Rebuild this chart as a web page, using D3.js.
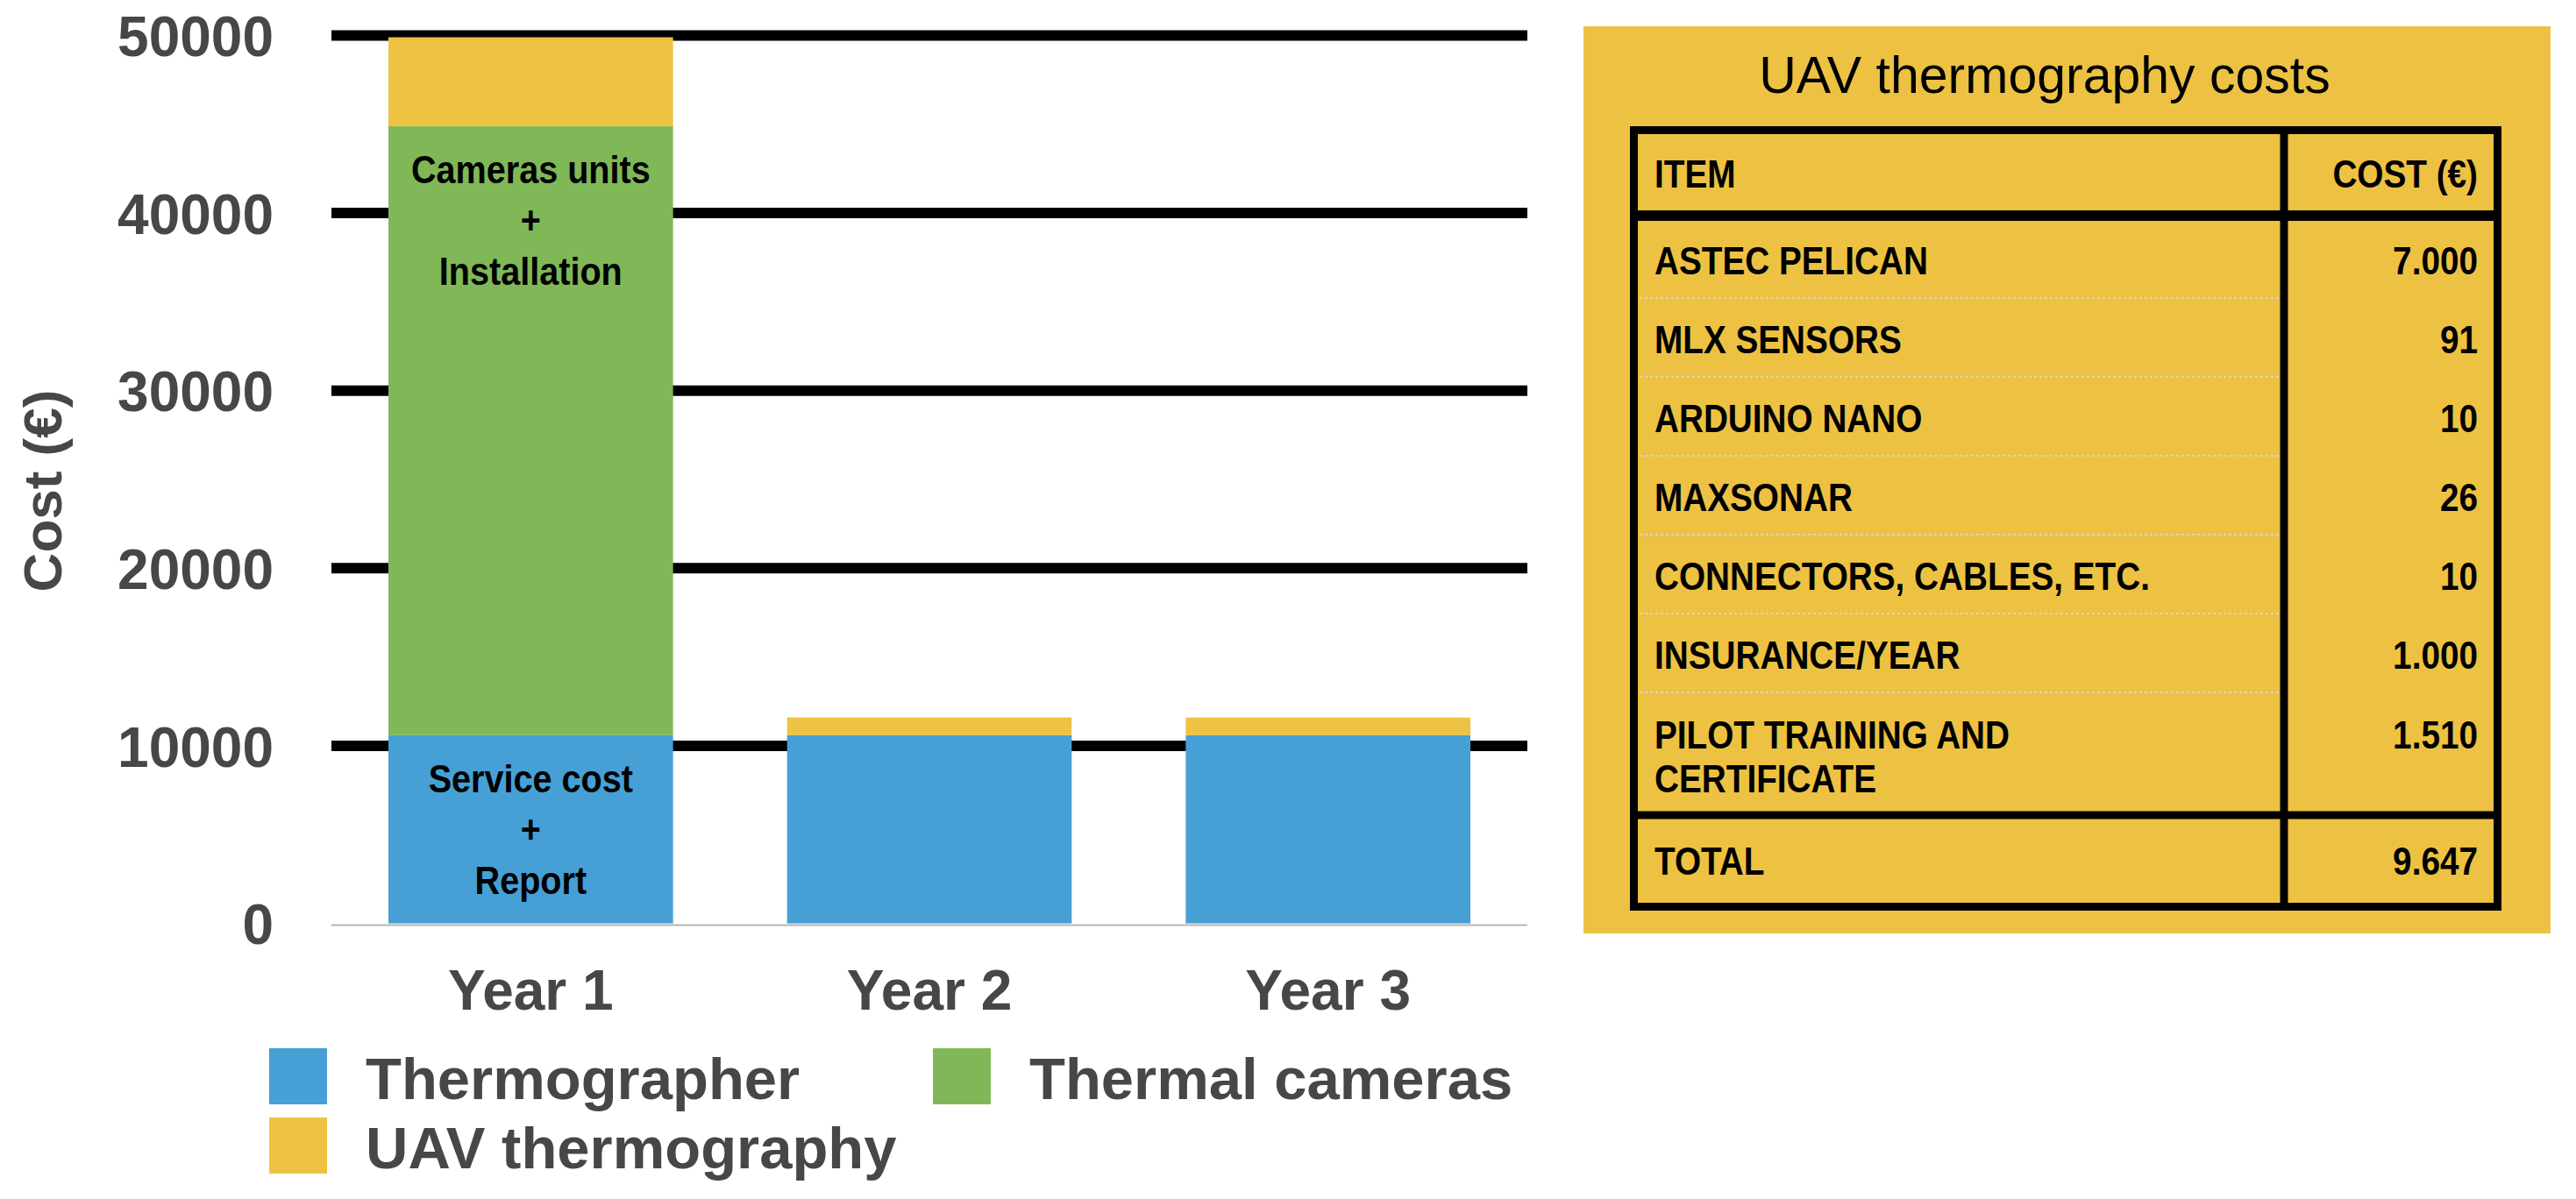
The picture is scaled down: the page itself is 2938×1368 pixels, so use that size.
<!DOCTYPE html>
<html>
<head>
<meta charset="utf-8">
<script src="https://cdn.jsdelivr.net/npm/d3@7"></script>
<style>
  body { margin: 0; background: #fff; }
  svg { display: block; font-family: "Liberation Sans", Arial, Helvetica, sans-serif; }
</style>
</head>
<body>
<svg id="chart" width="2938" height="1368"></svg>
<script>
// chart data
var years = ["Year 1", "Year 2", "Year 3"];
var thermographer = [10600, 10600, 10600];
var thermalCameras = [34300, 0, 0];
var uavThermography = [5000, 1000, 1000];
var yTicks = [0, 10000, 20000, 30000, 40000, 50000];

var seriesNames = ["Thermographer", "Thermal cameras", "UAV thermography"];
var seriesColors = ["#46a0d5", "#80b857", "#eec343"];

// notes written inside the first bar
var greenNote = ["Cameras units", "+", "Installation"];
var blueNote = ["Service cost", "+", "Report"];

// table data
var tableTitle = "UAV thermography costs";
var tableHeader = ["ITEM", "COST (€)"];
var tableItems = ["ASTEC PELICAN", "MLX SENSORS", "ARDUINO NANO", "MAXSONAR",
                  "CONNECTORS, CABLES, ETC.", "INSURANCE/YEAR", "PILOT TRAINING AND\nCERTIFICATE"];
var tableCosts = ["7.000", "91", "10", "26", "10", "1.000", "1.510"];
var tableTotal = ["TOTAL", "9.647"];

var svg = d3.select("#chart");
var axisGray = "#474747";

// scales
var x = d3.scaleBand()
    .domain(years)
    .range([378, 1742])
    .paddingInner(0.286)
    .paddingOuter(0.143);

var y = d3.scaleLinear()
    .domain([0, 50000])
    .range([1053.6, 40.5]);

// gridlines (thick black, not at zero)
svg.append("g").selectAll("line")
    .data(yTicks.filter(function(d) { return d > 0; }))
    .enter().append("line")
    .attr("x1", 378).attr("x2", 1742)
    .attr("y1", function(d) { return y(d); })
    .attr("y2", function(d) { return y(d); })
    .attr("stroke", "#000")
    .attr("stroke-width", 12);

// baseline
svg.append("line")
    .attr("x1", 378).attr("x2", 1742)
    .attr("y1", y(0) + 2).attr("y2", y(0) + 2)
    .attr("stroke", "#b5b5b5")
    .attr("stroke-width", 2);

// stacked bars
var rows = years.map(function(yr, i) {
    return { year: yr, t: thermographer[i], c: thermalCameras[i], u: uavThermography[i] };
});
var stacked = d3.stack().keys(["t", "c", "u"])(rows);

var layers = svg.append("g").selectAll("g")
    .data(stacked)
    .enter().append("g")
    .attr("fill", function(d, i) { return seriesColors[i]; });

layers.selectAll("rect")
    .data(function(d) { return d; })
    .enter().append("rect")
    .attr("x", function(d) { return x(d.data.year); })
    .attr("y", function(d) { return y(d[1]); })
    .attr("width", x.bandwidth())
    .attr("height", function(d) { return y(d[0]) - y(d[1]); });

// narrow bold text, closer to the condensed look of the original
function narrowText(parent, xPos, yPos, anchor, size, str, sx) {
    return parent.append("text")
        .attr("transform", "translate(" + xPos + "," + yPos + ") scale(" + sx + ",1)")
        .attr("text-anchor", anchor)
        .attr("font-size", size + "px")
        .attr("font-weight", "bold")
        .attr("fill", "#000")
        .text(str);
}

// notes inside Year 1 bar
function addNote(lines, segTop) {
    var cx = x(years[0]) + x.bandwidth() / 2;
    lines.forEach(function(l, i) {
        narrowText(svg, cx, segTop + 50 + i * 58 + 15, "middle", 44, l, 0.9);
    });
}
addNote(greenNote, y(stacked[1][0][1]));
addNote(blueNote, y(stacked[0][0][1]));

// y axis labels
var yAxis = svg.append("g")
    .attr("transform", "translate(378,0)")
    .call(d3.axisLeft(y).tickValues(yTicks).tickFormat(d3.format("d")).tickSize(0).tickPadding(66));
yAxis.select(".domain").remove();
yAxis.selectAll("text")
    .attr("font-size", "64px")
    .attr("font-weight", "bold")
    .attr("font-family", "Liberation Sans, Arial, sans-serif")
    .attr("fill", axisGray)
    .attr("dy", "0.36em");

// x axis labels
var xAxis = svg.append("g")
    .attr("transform", "translate(0," + y(0) + ")")
    .call(d3.axisBottom(x).tickSize(0).tickPadding(53));
xAxis.select(".domain").remove();
xAxis.selectAll("text")
    .attr("font-size", "64px")
    .attr("font-weight", "bold")
    .attr("font-family", "Liberation Sans, Arial, sans-serif")
    .attr("fill", axisGray);

// y axis title
svg.append("text")
    .attr("transform", "translate(70,560) rotate(-90)")
    .attr("text-anchor", "middle")
    .attr("font-size", "62px")
    .attr("font-weight", "bold")
    .attr("fill", axisGray)
    .text("Cost (€)");

// legend
var legendPos = [[307, 1196], [1064, 1196], [307, 1275]];
var legend = svg.append("g").selectAll("g")
    .data(seriesNames)
    .enter().append("g")
    .attr("transform", function(d, i) { return "translate(" + legendPos[i][0] + "," + legendPos[i][1] + ")"; });
legend.append("rect")
    .attr("width", 66).attr("height", 64)
    .attr("fill", function(d, i) { return seriesColors[i]; });
legend.append("text")
    .attr("x", 110).attr("y", 58)
    .attr("font-size", "67px")
    .attr("font-weight", "bold")
    .attr("fill", axisGray)
    .text(function(d) { return d; });

// cost table panel
var panel = svg.append("g");
panel.append("rect")
    .attr("x", 1806).attr("y", 30)
    .attr("width", 1103).attr("height", 1035)
    .attr("fill", "#edc242");

panel.append("text")
    .attr("x", 2332).attr("y", 106)
    .attr("text-anchor", "middle")
    .attr("font-size", "59px")
    .attr("fill", "#000")
    .text(tableTitle);

var tLeft = 1863.5, tRight = 2848.5, tTop = 148.5, tBottom = 1034.5, colX = 2605;
var textLeft = 1887, textRight = 2826;
var rowTop = 252, rowH = 90, pilotH = 142;

// row boxes for data rows
var rowBoxes = tableItems.map(function(item, i) {
    var top = rowTop + i * rowH;
    var h = item.indexOf("\n") >= 0 ? pilotH : rowH;
    return { item: item, cost: tableCosts[i], top: top, h: h };
});

// dotted separators in the item column
panel.append("g").selectAll("line")
    .data(rowBoxes.slice(1))
    .enter().append("line")
    .attr("x1", 1870).attr("x2", colX - 6)
    .attr("y1", function(d) { return d.top - 2; })
    .attr("y2", function(d) { return d.top - 2; })
    .attr("stroke", "#d8d4c4")
    .attr("stroke-width", 2)
    .attr("stroke-dasharray", "3,3");

// borders
panel.append("rect")
    .attr("x", tLeft).attr("y", tTop)
    .attr("width", tRight - tLeft).attr("height", tBottom - tTop)
    .attr("fill", "none").attr("stroke", "#000").attr("stroke-width", 9);
panel.append("line")
    .attr("x1", colX).attr("x2", colX).attr("y1", tTop).attr("y2", tBottom)
    .attr("stroke", "#000").attr("stroke-width", 9);
panel.append("line")
    .attr("x1", tLeft).attr("x2", tRight).attr("y1", 246).attr("y2", 246)
    .attr("stroke", "#000").attr("stroke-width", 12);
var totalLineY = rowBoxes[rowBoxes.length - 1].top + pilotH - 4;
panel.append("line")
    .attr("x1", tLeft).attr("x2", tRight).attr("y1", totalLineY).attr("y2", totalLineY)
    .attr("stroke", "#000").attr("stroke-width", 9);

function cellText(xPos, yPos, anchor, str) {
    narrowText(panel, xPos, yPos, anchor, 44, str, 0.88);
}

// header
cellText(textLeft, 214, "start", tableHeader[0]);
cellText(textRight, 214, "end", tableHeader[1]);

// data rows
rowBoxes.forEach(function(r) {
    var lines = r.item.split("\n");
    var firstBase = r.top + r.h / 2 + 16 - (lines.length - 1) * 25;
    lines.forEach(function(l, j) { cellText(textLeft, firstBase + j * 50, "start", l); });
    cellText(textRight, firstBase, "end", r.cost);
});

// total row
var totalCenter = (totalLineY + 4.5 + tBottom - 4.5) / 2;
cellText(textLeft, totalCenter + 16, "start", tableTotal[0]);
cellText(textRight, totalCenter + 16, "end", tableTotal[1]);
</script>
</body>
</html>
